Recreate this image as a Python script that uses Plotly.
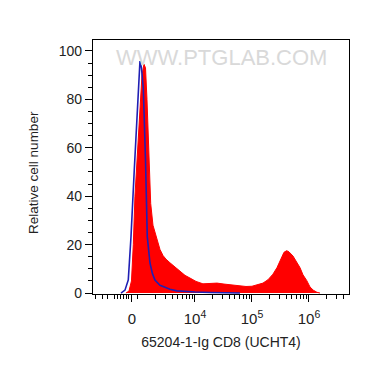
import plotly.graph_objects as go

# x values in display (biexponential) units: decades, where 4 = 10^4
red_x = [2.789, 2.842, 2.886, 2.918, 2.947, 2.982, 3.026, 3.070, 3.105, 3.132, 3.158, 3.193,
         3.223, 3.263, 3.298, 3.351, 3.386, 3.439, 3.491, 3.561, 3.614, 3.684, 3.737, 3.825,
         3.912, 4.018, 4.140, 4.263, 4.386, 4.509, 4.614, 4.754, 4.895, 5.000, 5.105, 5.193,
         5.281, 5.368, 5.439, 5.509, 5.561, 5.609, 5.649, 5.719, 5.789, 5.842, 5.895, 5.960,
         6.018, 6.075, 6.140, 6.193]
red_y = [0, 0.8, 5, 20, 40, 55, 75, 90, 94.5, 93, 80, 55,
         37, 28, 25, 20, 18, 15.5, 14, 12.5, 11.5, 9.8, 8.8, 7.3,
         6.2, 4.8, 3.8, 3.8, 4.1, 3.7, 3.4, 3.0, 2.7, 2.8, 3.4, 4.1,
         5.5, 7.8, 10.5, 14.5, 16.8, 17.5, 17, 15.3, 12.3, 10.5, 7.5, 5.2,
         2.5, 1.2, 0.3, 0]

blue_x = [2.702, 2.772, 2.830, 2.877, 2.935, 2.974, 3.009, 3.035, 3.061, 3.093, 3.132, 3.163,
          3.211, 3.254, 3.298, 3.386, 3.474, 3.561, 3.684, 3.825, 4.000, 4.263, 4.614, 4.789]
blue_y = [0, 1.2, 5.4, 23, 50.8, 70, 88, 95.8, 93, 84.7, 55, 23.3,
          12.4, 8, 5.4, 3.2, 2.4, 1.6, 0.9, 0.6, 0.4, 0.2, 0.1, 0]

x_tick_vals = [2.895, 4, 5, 6]
x_tick_text = ["0", "10<sup>4</sup>", "10<sup>5</sup>", "10<sup>6</sup>"]
x_minor_vals = [2.246, 2.386, 2.474, 2.596, 2.649, 2.702, 2.754, 2.807, 2.842, 3.0,
                3.301, 3.477, 3.602, 3.699, 3.778, 3.845, 3.903, 3.954,
                4.301, 4.477, 4.602, 4.699, 4.778, 4.845, 4.903, 4.954,
                5.301, 5.477, 5.602, 5.699, 5.778, 5.845, 5.903, 5.954,
                6.301, 6.477, 6.602]
y_tick_vals = [0, 20, 40, 60, 80, 100]

x_title = "65204-1-Ig CD8 (UCHT4)"
y_title = "Relative cell number"
watermark = "WWW.PTGLAB.COM"

fig = go.Figure()
fig.add_trace(go.Scatter(x=red_x, y=red_y, mode="lines", fill="tozeroy",
                         fillcolor="#ff0000", line=dict(color="#ff0000", width=1),
                         showlegend=False))
fig.add_trace(go.Scatter(x=blue_x, y=blue_y, mode="lines",
                         line=dict(color="#1f1fb4", width=1.6), showlegend=False))

font_family = "Liberation Sans, Arial, sans-serif"
fig.update_layout(
    width=370, height=365,
    margin=dict(l=93, r=21, t=40, b=71),
    paper_bgcolor="white", plot_bgcolor="white",
    font=dict(family=font_family, size=14, color="#222"),
    xaxis=dict(range=[2.211, 6.702], showgrid=False, zeroline=False,
               showline=True, linecolor="black", linewidth=1.2, mirror=True,
               ticks="outside", ticklen=7, tickwidth=1.2, tickcolor="black",
               tickmode="array", tickvals=x_tick_vals, ticktext=x_tick_text,
               tickfont=dict(size=15, color="#222"), ticklabelstandoff=4,
               minor=dict(tickmode="array", tickvals=x_minor_vals, ticks="outside",
                          ticklen=4, tickwidth=1, tickcolor="black", showgrid=False),
               title=dict(text=x_title, font=dict(size=14, color="#222"), standoff=11)),
    yaxis=dict(range=[-0.4, 104.5], showgrid=False, zeroline=False,
               showline=True, linecolor="black", linewidth=1.2, mirror=True,
               ticks="outside", ticklen=7, tickwidth=1.2, tickcolor="black",
               tickmode="array", tickvals=y_tick_vals,
               tickfont=dict(size=14, color="#222"),
               minor=dict(dtick=5, ticks="outside", ticklen=4, tickwidth=1,
                          tickcolor="black", showgrid=False)),
    annotations=[
        dict(text=y_title, xref="paper", yref="paper", x=-0.235, y=0.48,
             textangle=-90, showarrow=False, font=dict(size=13.5, color="#222"),
             xanchor="center", yanchor="middle"),
        dict(text=watermark, xref="paper", yref="paper", x=0.5, y=0.93,
             showarrow=False, font=dict(size=22, color="#d9d9d9"),
             xanchor="center", yanchor="middle"),
    ],
)

fig.write_html("out.html", config={"displayModeBar": False},
               post_script="document.body.style.margin='0px';")
